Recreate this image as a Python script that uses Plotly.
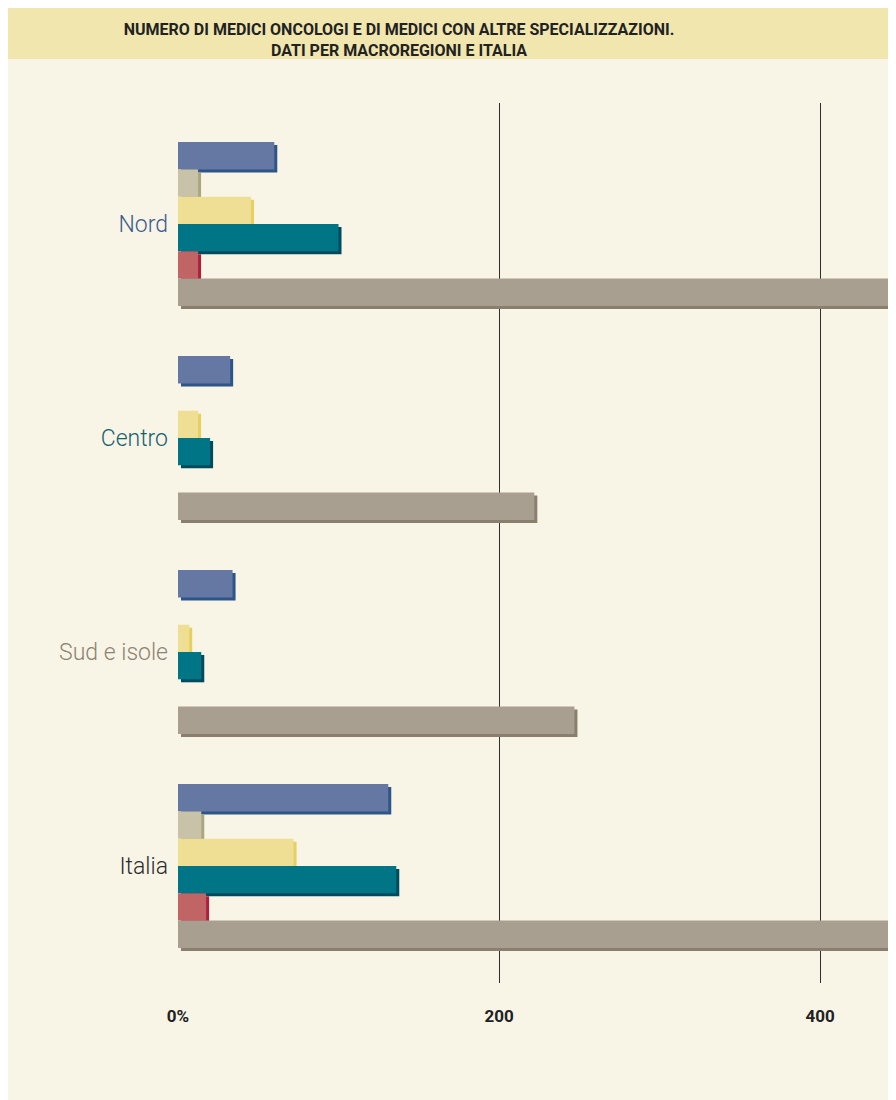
import plotly.graph_objects as go

# ---------------- data ----------------
categories = ["Nord", "Centro", "Sud e isole", "Italia"]
category_colors = ["#3d5b8c", "#17606e", "#8c8372", "#2b2b2b"]

series_names = ["Serie A", "Serie B", "Serie C", "Serie D", "Serie E", "Serie F"]
series_values = [
    [60, 32.5, 34, 131],      # blue
    [12.5, 0, 0, 14.5],       # light beige
    [45.5, 12.5, 7, 72],      # yellow
    [100, 20, 14.5, 136],     # teal
    [12.5, 0, 0, 17.5],       # red
    [520, 222, 247, 989],     # taupe
]
main_colors = ["#6577a3", "#c8c2a8", "#eedf94", "#007585", "#c06466", "#a99f90"]
shadow_colors = ["#2e5587", "#aca67e", "#e6d060", "#004c5e", "#b0203a", "#8a7e6e"]

tick_vals = [0, 200, 400]
tick_text = ["0%", "200", "400"]

# ---------------- layout geometry (figure pixels) ----------------
W, H = 896, 1100
PL, PR = 170, 896          # plot area left/right
PT, PB = 95, 975           # plot area top/bottom
PX_PER_UNIT = 1.605
X_MAX = (PR - PL) / PX_PER_UNIT
CAT_PX = 214.0
first_center = 216.0
y_top = -(first_center - PT) / CAT_PX
y_bot = (PB - first_center) / CAT_PX
bar_w = 27.3 / CAT_PX
sh_x = 3 / PX_PER_UNIT
sh_y = 3 / CAT_PX

ypos = list(range(len(categories)))
n = len(series_values)

fig = go.Figure()
for i in range(n):
    off = (i - n / 2) * bar_w
    fig.add_trace(go.Bar(
        orientation="h", y=ypos, x=series_values[i], base=sh_x,
        offset=off + sh_y, width=bar_w,
        marker=dict(color=shadow_colors[i], line=dict(width=0)),
        showlegend=False, hoverinfo="skip"))
    fig.add_trace(go.Bar(
        orientation="h", y=ypos, x=series_values[i], name=series_names[i],
        offset=off, width=bar_w,
        marker=dict(color=main_colors[i], line=dict(width=0)),
        showlegend=False))


def px2paper_x(p):
    return (p - PL) / (PR - PL)


def px2paper_y(p):
    return (PB - p) / (PB - PT)


shapes = [
    dict(type="rect", xref="paper", yref="paper", layer="below",
         x0=px2paper_x(-5), x1=px2paper_x(W + 5), y0=px2paper_y(51), y1=px2paper_y(-5),
         fillcolor="#f0e6ae", line=dict(width=0)),
]

ticktext_y = [f'<span style="color:{c}">{t}</span>' for t, c in zip(categories, category_colors)]
ticktext_x = [f"<b>{t}</b>" for t in tick_text]

FONT = "Roboto, sans-serif"

fig.update_layout(
    width=W, height=H,
    margin=dict(l=PL, r=W - PR, t=PT, b=H - PB, pad=0),
    paper_bgcolor="#f8f5e7", plot_bgcolor="rgba(0,0,0,0)",
    barmode="overlay",
    shapes=shapes,
    title=dict(
        text="<b>NUMERO DI MEDICI ONCOLOGI E DI MEDICI CON ALTRE SPECIALIZZAZIONI.</b><br><b>DATI PER MACROREGIONI E ITALIA</b>",
        x=391 / W, xanchor="center", y=1 - 27 / H, yanchor="middle",
        font=dict(family=FONT, size=16, color="#222222")),
    font=dict(family=FONT),
    xaxis=dict(range=[0, X_MAX], tickvals=tick_vals, ticktext=ticktext_x,
               showgrid=True, gridcolor="#2e2e2e", gridwidth=1,
               zeroline=False, showline=False, ticks="",
               ticklabelstandoff=21,
               tickfont=dict(family=FONT, size=17, color="#222222")),
    yaxis=dict(range=[y_bot, y_top], tickvals=ypos, ticktext=ticktext_y,
               showgrid=False, zeroline=False, showline=False, ticks="",
               ticklabelstandoff=9,
               tickfont=dict(family=FONT, size=23, weight=300)),
)

fig.write_html("out.html")
